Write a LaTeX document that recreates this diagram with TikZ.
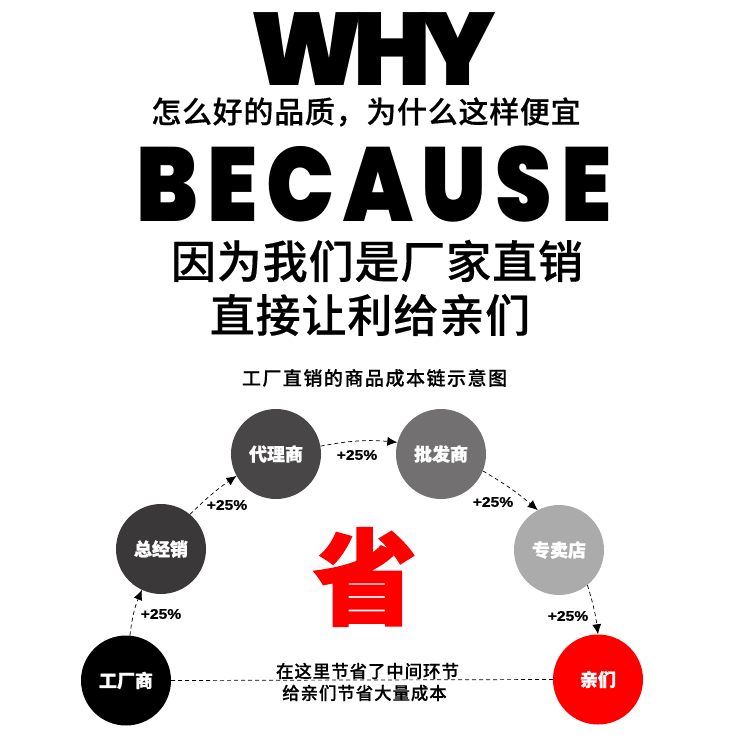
\documentclass[tikz,border=0pt]{standalone}
\usepackage{fontspec}
\usepackage{tikz}
\usetikzlibrary{arrows.meta,positioning}
\usepackage{xcolor}
\setmainfont{Liberation Sans}
\newfontfamily\cjkbold{Noto Sans CJK SC Bold}
\newfontfamily\cjkmedium{Noto Sans CJK SC Medium}[FakeBold=0.4]
\newfontfamily\cjkblack{Noto Sans CJK SC Black}[FakeBold=1.2]
\newfontfamily\savefont{Noto Sans CJK SC Black}[FakeBold=1.5]
\newfontfamily\heavywhy{Poppins Black}[LetterSpace=-10]
\newfontfamily\heavywide{Poppins Black}[FakeStretch=0.86,LetterSpace=8.5]
\newfontfamily\ratefont{Liberation Sans Bold}[FakeStretch=1.12,FakeBold=0.6]
\definecolor{chainblack}{RGB}{0,0,0}
\definecolor{chaindark}{RGB}{58,56,57}
\definecolor{chainmid}{RGB}{72,70,71}
\definecolor{chaingrey}{RGB}{114,112,113}
\definecolor{chainlight}{RGB}{172,171,171}
\definecolor{chainred}{RGB}{254,0,0}
\tikzstyle{arrow} = [line width=0.7pt,dash pattern=on 4pt off 3pt,-{Latex[length=10pt,width=9pt]},black]
\tikzstyle{costnode} = [circle, minimum size=90pt, inner sep=0pt, text=white, font=\cjkblack\fontsize{18}{20}\selectfont]
\tikzstyle{rate} = [inner sep=0pt, font=\ratefont\fontsize{14}{16}\selectfont]
\tikzstyle{bigtext} = [inner sep=0pt, font=\cjkmedium\fontsize{45}{48}\selectfont\addfontfeature{LetterSpace=2}]
\tikzstyle{smalltext} = [inner sep=0pt, font=\cjkmedium\fontsize{17.5}{20}\selectfont\addfontfeature{LetterSpace=5}]
\begin{document}
\begin{tikzpicture}[x=1pt,y=-1pt]
\useasboundingbox (0,0) rectangle (750,741);
% Headings
\node[inner sep=0pt, font=\heavywhy\fontsize{103}{110}\selectfont] (why) at (373,49.5) {WHY};
\node[inner sep=0pt, font=\cjkmedium\fontsize{30}{32}\selectfont\addfontfeature{LetterSpace=2.4}] (question) at (366,112) {怎么好的品质，为什么这样便宜};
\node[inner sep=0pt, font=\heavywide\fontsize{105}{110}\selectfont] (because) at (374,184) {BECAUSE};
\node[bigtext] (answer) at (377,261) {因为我们是厂家直销};
\node[bigtext] (answerb) at (370,315) {直接让利给亲们};
\node[inner sep=0pt, font=\cjkmedium\fontsize{19}{20}\selectfont\addfontfeature{LetterSpace=8}] (chaintitle) at (374.5,378) {工厂直销的商品成本链示意图};

% Circles
\node[costnode, fill=chainblack] (factory) at (126,680.5) {工厂商};
\node[costnode, fill=chaindark] (general) at (161,549) {总经销};
\node[costnode, fill=chainmid] (agent) at (276,454) {代理商};
\node[costnode, fill=chaingrey] (wholesale) at (441,454) {批发商};
\node[costnode, fill=chainlight] (shop) at (559,550) {专卖店};
\node[costnode, fill=chainred] (buyer) at (598,679.5) {亲们};

% Arrows
\draw[arrow] (factory.85) to[bend left=8] (general.245);
\draw[arrow] (general.50) to[bend left=5] (agent.209);
\draw[arrow] (agent.10) to[bend left=8] (wholesale.165);
\draw[arrow] (wholesale.-22) to[bend left=5] (shop.118);
\draw[arrow] (shop.-51) to[bend left=5] (buyer.90);
\draw[line width=0.7pt,dash pattern=on 4pt off 3pt] (factory.east) -- (buyer.west);

% Rates
\node[rate] (ratea) at (161,614) {+25\%};
\node[rate] (rateb) at (227,505) {+25\%};
\node[rate] (ratec) at (357,455) {+25\%};
\node[rate] (rated) at (493,502) {+25\%};
\node[rate] (ratee) at (568,616) {+25\%};

% Saving
\node[inner sep=0pt, text=red, font=\savefont\fontsize{104}{110}\selectfont] (save) at (365,577) {省};
\node[smalltext] (savea) at (367.5,671) {在这里节省了中间环节};
\node[smalltext] (saveb) at (364.5,693) {给亲们节省大量成本};
\end{tikzpicture}
\end{document}
